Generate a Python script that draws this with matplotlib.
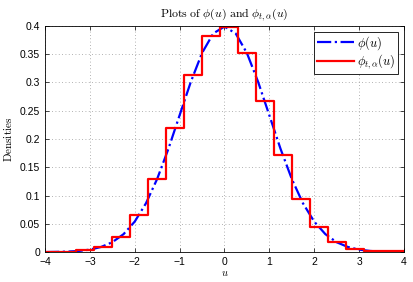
import matplotlib
matplotlib.use("Agg")
import matplotlib.pyplot as plt
import numpy as np

plt.rcParams['mathtext.fontset'] = 'cm'
plt.rcParams['font.family'] = ['Liberation Sans', 'DejaVu Sans']

# Standard normal density read at u step 0.25
u_curve = [-4.0, -3.75, -3.5, -3.25, -3.0, -2.75, -2.5, -2.25, -2.0, -1.75, -1.5, -1.25,
           -1.0, -0.75, -0.5, -0.25, 0.0, 0.25, 0.5, 0.75, 1.0, 1.25, 1.5, 1.75,
           2.0, 2.25, 2.5, 2.75, 3.0, 3.25, 3.5, 3.75, 4.0]
phi_vals = [0.0001, 0.0004, 0.0009, 0.0020, 0.0044, 0.0091, 0.0175, 0.0317, 0.0540, 0.0863,
            0.1295, 0.1826, 0.2420, 0.3011, 0.3521, 0.3867, 0.3989, 0.3867, 0.3521, 0.3011,
            0.2420, 0.1826, 0.1295, 0.0863, 0.0540, 0.0317, 0.0175, 0.0091, 0.0044, 0.0020,
            0.0009, 0.0004, 0.0001]

# Step approximation: bin edges and heights
bin_edges = [-4.0, -3.3, -2.9, -2.5, -2.1, -1.7, -1.3, -0.9, -0.5, -0.1, 0.3, 0.7,
             1.1, 1.5, 1.9, 2.3, 2.7, 3.1, 4.0]
bin_vals = [0.001, 0.0035, 0.0095, 0.027, 0.065, 0.129, 0.219, 0.313, 0.382, 0.399,
            0.353, 0.268, 0.172, 0.094, 0.044, 0.017, 0.006, 0.0015]

fig = plt.figure(figsize=(4.13, 2.82), dpi=100)
ax = fig.add_axes([0.109, 0.106, 0.869, 0.802])

ax.plot(u_curve, phi_vals, color=(0, 0, 1), linestyle='-.', linewidth=1.6,
        label=r'$\phi(u)$')
ax.step(bin_edges, bin_vals + [bin_vals[-1]], where='post', color=(1, 0, 0),
        linewidth=1.6, label=r'$\phi_{t,\alpha}(u)$')

ax.set_xlim(-4, 4)
ax.set_ylim(0, 0.4)
ax.set_xticks(np.arange(-4, 5, 1))
ax.set_yticks(np.arange(0, 0.401, 0.05))
ax.set_yticklabels(['0', '0.05', '0.1', '0.15', '0.2', '0.25', '0.3', '0.35', '0.4'])
ax.set_xticklabels(['\u22124', '\u22123', '\u22122', '\u22121', '0', '1', '2', '3', '4'])
ax.tick_params(direction='in', top=True, right=True, labelsize=7.5, length=3, width=0.5)
ax.grid(True, linestyle=(0, (1, 3)), color='#999999', linewidth=0.6)
for s in ax.spines.values():
    s.set_linewidth(0.6)

ax.set_title(r'$\mathrm{Plots\ of\ }\phi(u)\mathrm{\ and\ }\phi_{t,\alpha}(u)$', fontsize=8.5, pad=6)
ax.set_xlabel(r'$u$', fontsize=7.5, labelpad=1)
ax.set_ylabel(r'$\mathrm{Densities}$', fontsize=8, labelpad=4)

leg = ax.legend(loc='upper right', fontsize=9, fancybox=False, edgecolor='black',
                framealpha=1, handlelength=3.0, handletextpad=0.25, borderaxespad=0.45,
                borderpad=0.2, labelspacing=0.05)
leg.get_frame().set_linewidth(0.6)

fig.savefig('out.png', dpi=100)
